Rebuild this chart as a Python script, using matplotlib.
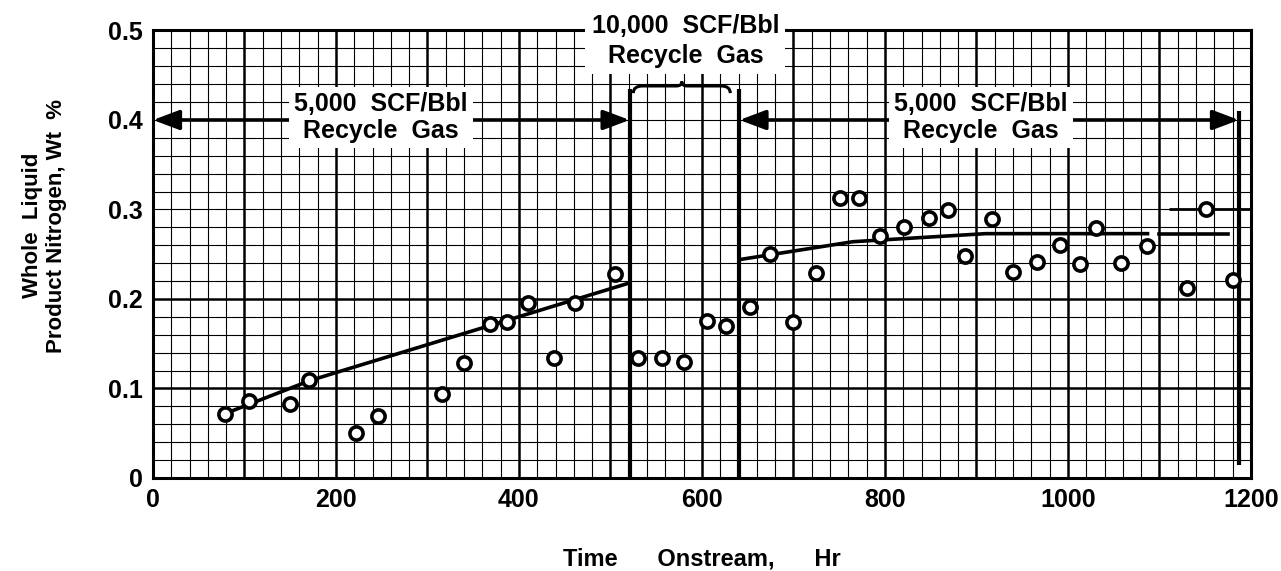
import numpy as np
import matplotlib
matplotlib.use("Agg")
import matplotlib.pyplot as plt
from matplotlib.path import Path
from matplotlib.patches import PathPatch

plt.rcParams["font.family"] = ["Liberation Sans", "DejaVu Sans"]
plt.rcParams["font.weight"] = "bold"
narrow = ["Liberation Sans Narrow", "Liberation Sans", "DejaVu Sans"]

# nitrogen in whole liquid product vs. time onstream
hr_5k_a = [79, 105, 150, 171, 222, 246, 316, 340, 368, 387, 410, 438, 461, 505]
n_5k_a = [0.072, 0.086, 0.083, 0.109, 0.050, 0.069, 0.094, 0.128, 0.172, 0.174,
          0.195, 0.134, 0.195, 0.228]

hr_10k = [530, 556, 580, 606, 626]
n_10k = [0.134, 0.134, 0.130, 0.175, 0.170]

hr_5k_b = [653, 674, 699, 725, 751, 772, 795, 821, 848, 869, 888, 917, 940, 966,
           991, 1013, 1031, 1058, 1086, 1130, 1151, 1180]
n_5k_b = [0.191, 0.250, 0.174, 0.229, 0.313, 0.313, 0.270, 0.280, 0.291, 0.299,
          0.248, 0.289, 0.230, 0.241, 0.260, 0.239, 0.279, 0.240, 0.259, 0.212,
          0.301, 0.221]

# hand-drawn trend lines
trend_a_hr = [79, 172, 521]
trend_a = [0.072, 0.109, 0.218]
trend_b_hr = [641, 765, 910, 1087]
trend_b = [0.244, 0.264, 0.273, 0.273]
trend_c_hr = [1100, 1175]
trend_c = [0.273, 0.273]

# recycle gas switch-over times
switch_hr = [521, 641, 1187]
switch_top = [0.435, 0.435, 0.41]
switch_bottom = [0, 0, 0.015]

x_ticks = [0, 200, 400, 600, 800, 1000, 1200]
y_ticks = [0, 0.1, 0.2, 0.3, 0.4, 0.5]
y_labels = ["0", "0.1", "0.2", "0.3", "0.4", "0.5"]

fig = plt.figure(figsize=(12.81, 5.71), dpi=100)
ax = fig.add_axes([0.1194, 0.1629, 0.8571, 0.7837])
ax.set_xlim(0, 1200)
ax.set_ylim(0, 0.5)

# graph paper grid
for x in np.arange(20, 1200, 20):
    major = x % 100 == 0
    ax.axvline(x, color="black", lw=1.8 if major else 0.8, zorder=1)
for y in np.arange(0.02, 0.5, 0.02):
    y = round(y, 2)
    major = y in (0.1, 0.2)
    ax.axhline(y, color="black", lw=1.8 if major else 0.8, zorder=1)
ax.hlines(0.3, 1111, 1200, color="black", lw=2.0, zorder=2)

for side in ax.spines.values():
    side.set_linewidth(2.2)

ax.set_xticks(x_ticks)
ax.set_yticks(y_ticks)
ax.set_yticklabels(y_labels)
ax.tick_params(length=0, labelsize=18, pad=7)

# divider lines between recycle gas rates
for x, y0, y1 in zip(switch_hr, switch_bottom, switch_top):
    ax.vlines(x, y0, y1, color="black", lw=3.0, zorder=4)

ax.plot(trend_a_hr, trend_a, color="black", lw=2.6, zorder=4)
ax.plot(trend_b_hr, trend_b, color="black", lw=2.6, zorder=4)
ax.plot(trend_c_hr, trend_c, color="black", lw=2.6, zorder=4)

mk = dict(ls="none", marker="o", ms=9.5, mfc="white", mec="black", mew=2.6, zorder=5)
ax.plot(hr_5k_a, n_5k_a, **mk)
ax.plot(hr_10k, n_10k, **mk)
ax.plot(hr_5k_b, n_5k_b, **mk)

# span arrows at 0.4
arrow = dict(arrowstyle="<|-|>,head_length=0.8,head_width=0.3", color="black",
             lw=2.6, mutation_scale=20, shrinkA=0, shrinkB=0)
ax.annotate("", xy=(0, 0.4), xytext=(switch_hr[0], 0.4), arrowprops=arrow,
            zorder=6, annotation_clip=False)
ax.annotate("", xy=(switch_hr[1], 0.4), xytext=(switch_hr[2], 0.4), arrowprops=arrow,
            zorder=6, annotation_clip=False)

box = dict(boxstyle="square,pad=0.2", fc="white", ec="none")
ax.text(249, 0.403, "5,000  SCF/Bbl\nRecycle  Gas", ha="center", va="center",
        fontsize=18, linespacing=1.15, bbox=box, zorder=8)
ax.text(905, 0.403, "5,000  SCF/Bbl\nRecycle  Gas", ha="center", va="center",
        fontsize=18, linespacing=1.15, bbox=box, zorder=8)
top_box = dict(boxstyle="square,pad=0.25", fc="white", ec="none")
ax.text(582, 0.488, "10,000  SCF/Bbl\nRecycle  Gas", ha="center", va="center",
        fontsize=18, linespacing=1.3, bbox=top_box, zorder=8, clip_on=False)

# curly brace over the 10,000 SCF/Bbl period
bx0, bx1, by = 525, 631, 0.438
bm = (bx0 + bx1) / 2
verts = [(bx0, by - 0.008), (bx0, by), (bx0 + 10, by),
         (bm - 6, by), (bm, by), (bm, by + 0.005),
         (bm, by), (bm + 6, by),
         (bx1 - 10, by), (bx1, by), (bx1, by - 0.008)]
codes = [Path.MOVETO, Path.CURVE3, Path.CURVE3,
         Path.LINETO, Path.CURVE3, Path.CURVE3,
         Path.CURVE3, Path.CURVE3,
         Path.LINETO, Path.CURVE3, Path.CURVE3]
ax.add_patch(PathPatch(Path(verts, codes), fc="none", ec="black", lw=2.2, zorder=9))

ax.set_xlabel("Time      Onstream,      Hr", fontsize=17, family=narrow,
              fontweight="bold", labelpad=26)
fig.text(0.035, 0.605, "Whole  Liquid\nProduct Nitrogen, Wt  %", rotation=90,
         ha="center", va="center", fontsize=16, family=narrow, fontweight="bold",
         linespacing=1.2, multialignment="center")

fig.savefig("out.png", dpi=100, facecolor="white")
